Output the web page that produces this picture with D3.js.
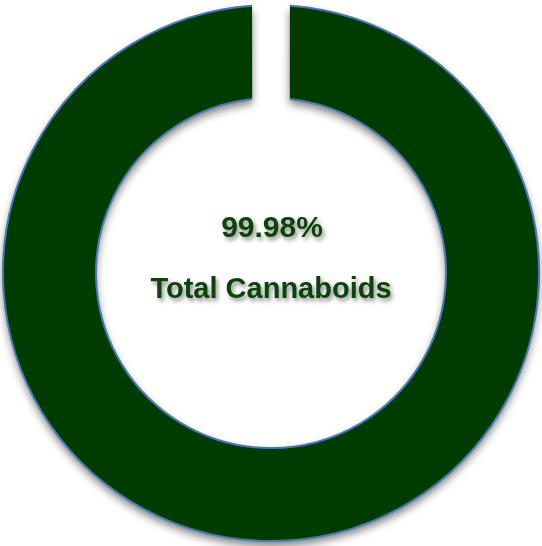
<!DOCTYPE html>
<html>
<head>
<meta charset="utf-8">
<script src="https://cdn.jsdelivr.net/npm/d3@7"></script>
<style>
  html, body { margin: 0; padding: 0; background: #fff; }
  #chart svg { display: block; }
</style>
</head>
<body>
<div id="chart"></div>
<script>
// Data
const labels = ["Total Cannaboids", "Other"];
const values = [99.98, 0.02];
const colors = ["#063a06", "#ffffff"];
const centerTexts = ["99.98%", "Total Cannaboids"];

const w = 542;
const h = 546;
const cx = 271;
const cy = 273;
const outerR = 268;
const innerR = 175;
const padRadius = Math.sqrt(innerR * innerR + outerR * outerR);
const gapWidth = 37.5;
const padAngle = 2 * Math.asin(gapWidth / 2 / padRadius);

const svg = d3.select("#chart")
  .append("svg")
  .attr("width", w)
  .attr("height", h);

const defs = svg.append("defs");

// Shadow under the ring
const ringShadow = defs.append("filter")
  .attr("id", "ringShadow")
  .attr("x", "-10%").attr("y", "-10%")
  .attr("width", "120%").attr("height", "120%");
ringShadow.append("feDropShadow")
  .attr("dx", 0).attr("dy", 5)
  .attr("stdDeviation", 4)
  .attr("flood-color", "#000")
  .attr("flood-opacity", 0.5);

// Shadow for the text
const textShadow = defs.append("filter")
  .attr("id", "textShadow")
  .attr("x", "-10%").attr("y", "-30%")
  .attr("width", "120%").attr("height", "160%");
textShadow.append("feDropShadow")
  .attr("dx", 2).attr("dy", 3)
  .attr("stdDeviation", 2)
  .attr("flood-color", "#000")
  .attr("flood-opacity", 0.45);

// Pie layout, small slice centred at the top
const k = (2 * Math.PI) / d3.sum(values);
const start = (k * values[1]) / 2;

const pie = d3.pie()
  .sort(null)
  .startAngle(start)
  .endAngle(start + 2 * Math.PI);

const arcs = pie(values);

// padding gives the straight, parallel edges of the gap
const arc = d3.arc()
  .innerRadius(innerR)
  .outerRadius(outerR)
  .padAngle(padAngle)
  .padRadius(padRadius);

const g = svg.append("g")
  .attr("transform", `translate(${cx}, ${cy})`);

g.selectAll("path.slice")
  .data(arcs.slice(0, 1))
  .enter()
  .append("path")
  .attr("class", "slice")
  .attr("d", arc)
  .attr("fill", (d, i) => colors[i])
  .attr("filter", "url(#ringShadow)");

// Blue edge lines on the outer and inner arcs
[outerR, innerR].forEach((r) => {
  const edge = d3.arc()
    .innerRadius(r)
    .outerRadius(r)
    .padAngle(padAngle)
    .padRadius(padRadius);
  g.append("path")
    .attr("d", edge(arcs[0]))
    .attr("fill", "none")
    .attr("stroke", "#4a79b5")
    .attr("stroke-width", 2);
});

// Centre labels
const textG = svg.append("g")
  .attr("filter", "url(#textShadow)");

textG.append("text")
  .attr("x", cx + 1)
  .attr("y", 237)
  .attr("text-anchor", "middle")
  .style("font-family", "'Liberation Sans', Arial, sans-serif")
  .style("font-weight", "bold")
  .style("font-size", "30px")
  .attr("fill", "#0a430a")
  .text(centerTexts[0]);

textG.append("text")
  .attr("x", cx)
  .attr("y", 298)
  .attr("text-anchor", "middle")
  .style("font-family", "'Liberation Sans', Arial, sans-serif")
  .style("font-weight", "bold")
  .style("font-size", "29px")
  .attr("fill", "#0a430a")
  .text(centerTexts[1]);
</script>
</body>
</html>
